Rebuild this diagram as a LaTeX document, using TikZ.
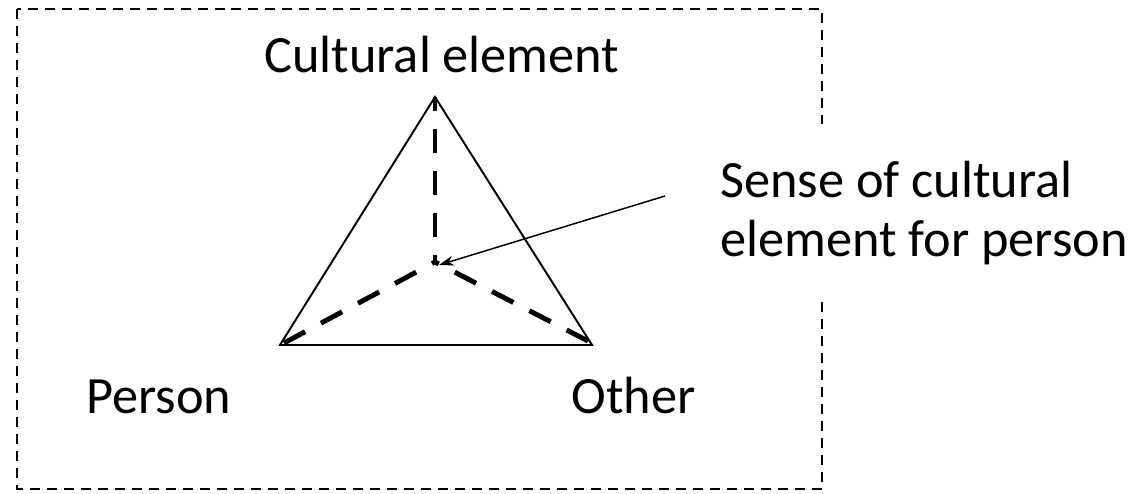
\documentclass[tikz,border=0pt]{standalone}
\usepackage{fontspec}
\setmainfont{Carlito}
\usetikzlibrary{arrows.meta}

\begin{document}
\begin{tikzpicture}[x=0.02cm, y=-0.02cm, line join=miter]
  \useasboundingbox (0,0) rectangle (1141,493);
  \tikzset{
    label/.style={anchor=base west, inner sep=0pt, font=\fontsize{29.8}{34}\selectfont},
    spoke/.style={line width=2.8pt, dash pattern=on 0.48cm off 0.36cm},
  }
  % frame
  \draw[line width=0.85pt, dash pattern=on 0.2cm off 0.14cm] (17,9) rectangle (822,489);

  \coordinate (A) at (435, 97);
  \coordinate (P) at (280, 345);
  \coordinate (O) at (592, 345);
  \coordinate (M) at (435, 262);

  \draw[line width=1.1pt] (A) -- (P) -- (O) -- cycle;
  \draw[spoke, dash phase=0.2cm] (A) -- (M);
  \draw[spoke] (P) ++(4,-2) -- (M);
  \draw[spoke] (O) ++(-4,-4) -- (M);

  \node[label] (cult) at (264, 73) {Cultural element};
  \node[label] (pers) at (86, 413) {Person};
  \node[label] (oth)  at (571, 413) {Other};
  \node[anchor=west, fill=white, inner xsep=4pt, inner ysep=0pt,
        minimum height=3.56cm, align=left,
        font=\fontsize{29.8}{33.6}\selectfont] (sense) at (713, 213)
        {Sense of cultural\\element for person};

  \coordinate (tail) at (665, 196);
  \draw[line width=0.85pt, -{Stealth[length=0.3cm, width=0.2cm]}] (tail) -- (439, 265);
\end{tikzpicture}
\end{document}
